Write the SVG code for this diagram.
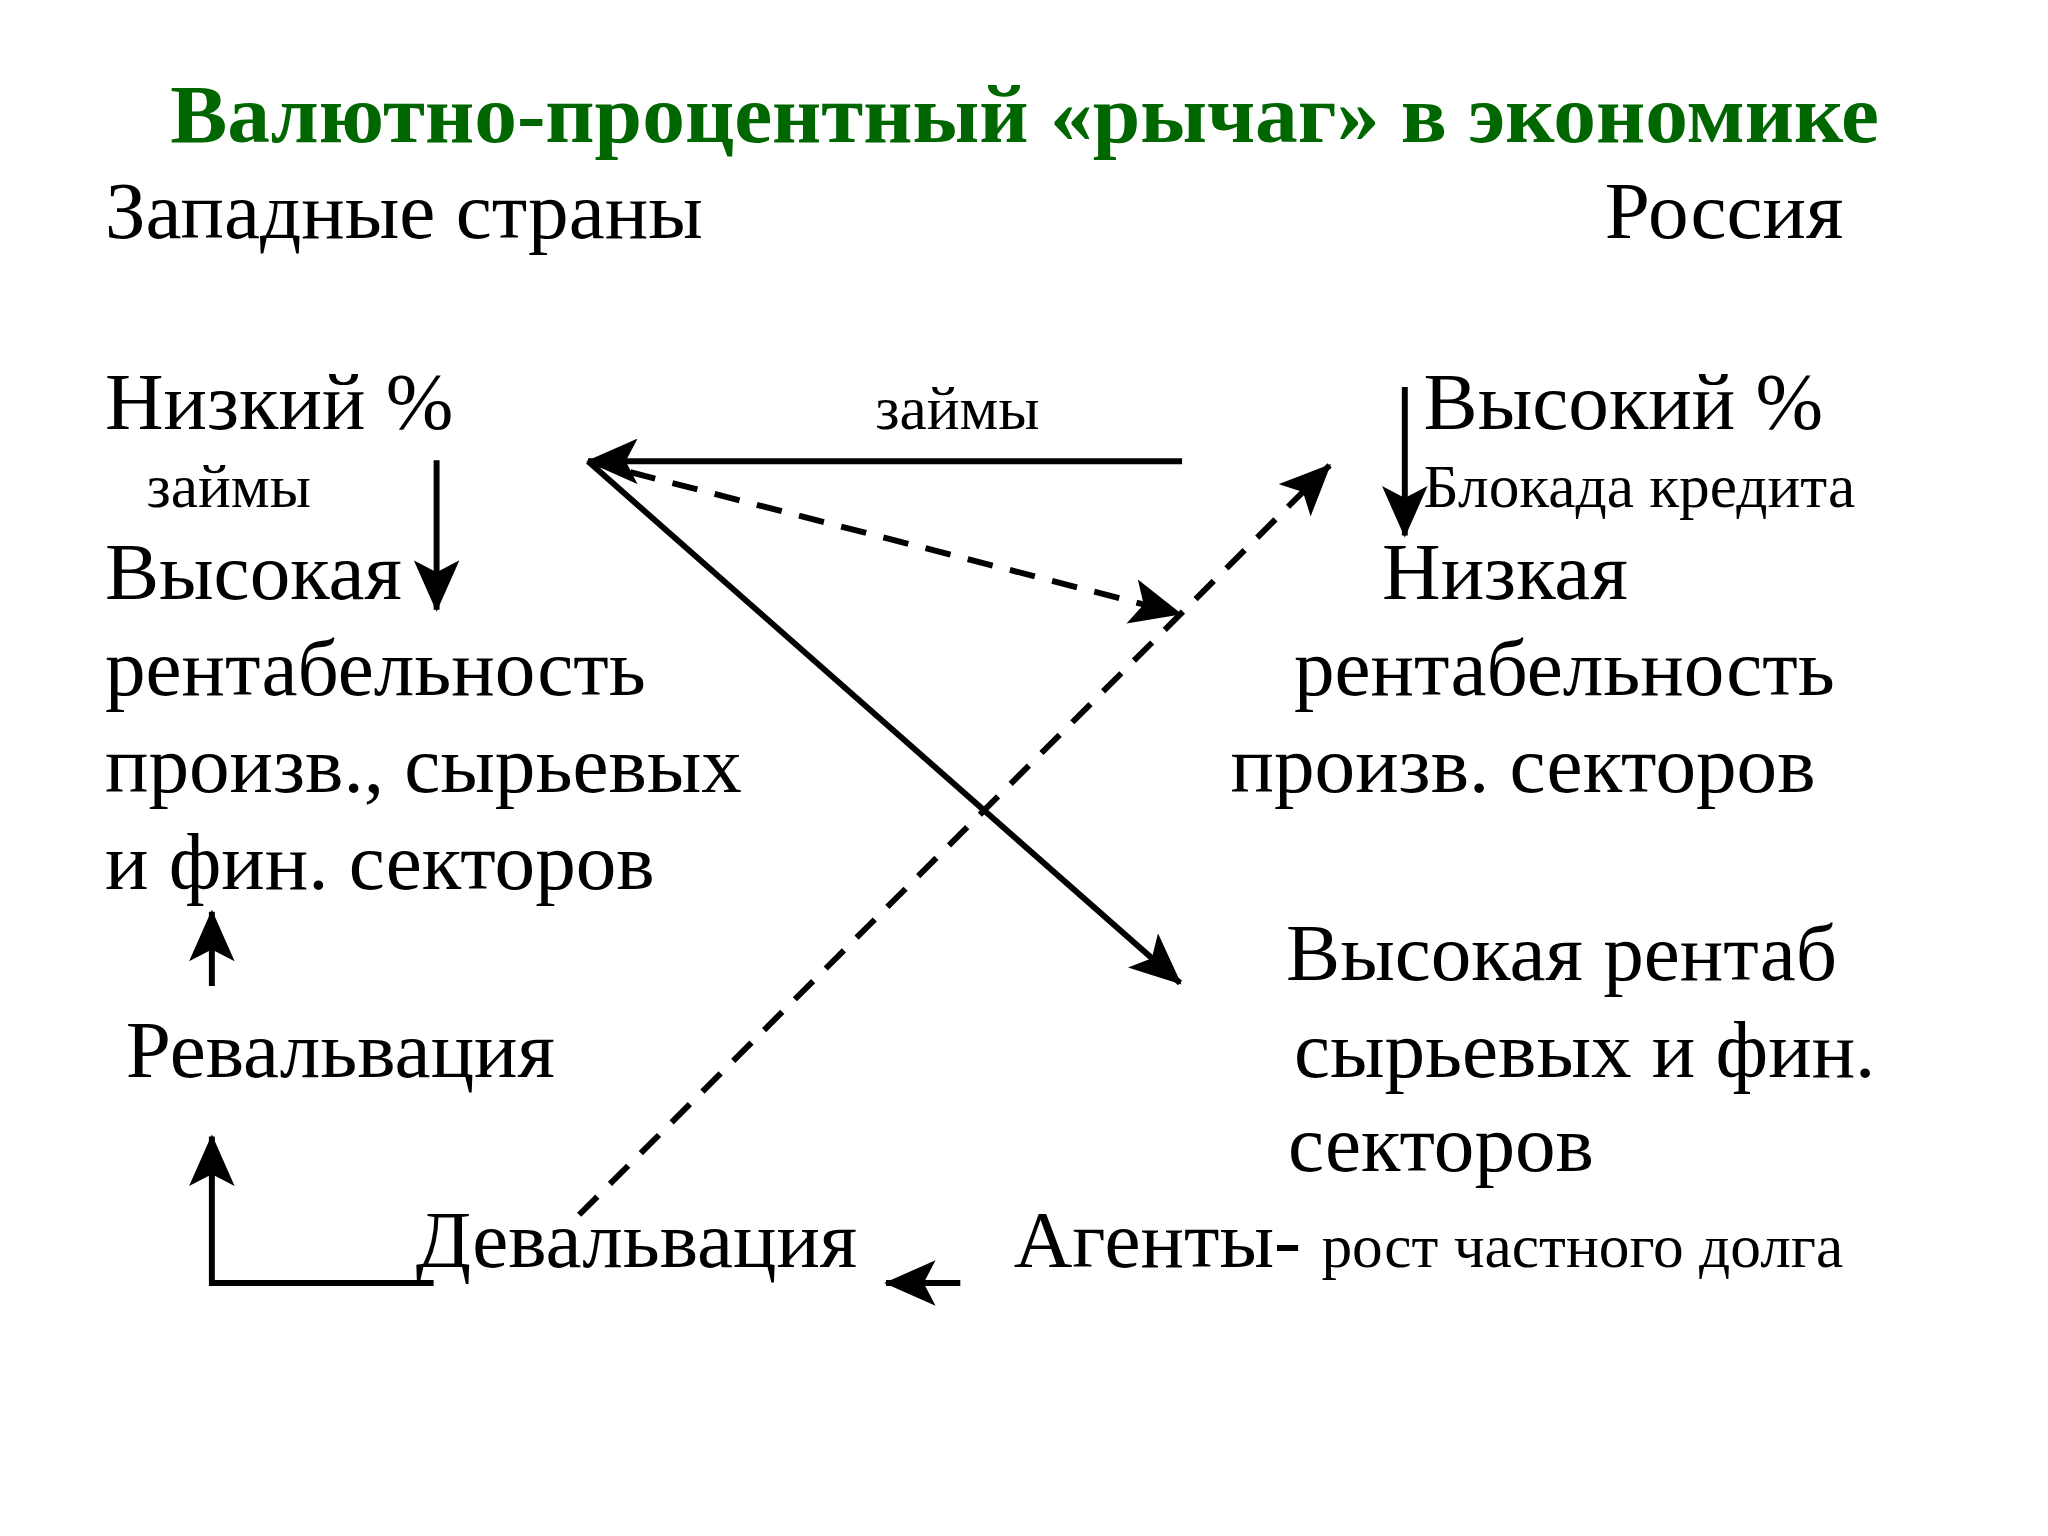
<svg xmlns="http://www.w3.org/2000/svg" width="2048" height="1536" viewBox="0 0 2048 1536">
<style>
text{font-family:"Liberation Serif","DejaVu Serif",serif;fill:#000}
.b{font-size:82px}
.s{font-size:62px}
.t{font-size:84px;font-weight:bold;fill:#006600}
.l{stroke:#000;stroke-width:6;fill:none}
.d{stroke-dasharray:26 18}
</style>
<defs>
<marker id="a" markerUnits="userSpaceOnUse" markerWidth="56" markerHeight="46" refX="50" refY="23" orient="auto">
<path d="M0,0 L52,23 L0,46 L12,23 Z" fill="#000"/>
</marker>
</defs>
<rect width="2048" height="1536" fill="#fff"/>
<g transform="scale(0.99)">
<text class="t" x="172" y="143" textLength="1726" lengthAdjust="spacingAndGlyphs">Валютно-процентный «рычаг» в экономике</text>
<g id="west"><text class="b" x="106" y="240">Западные страны</text></g>
<g id="russia"><text class="b" x="1621" y="240">Россия</text></g>
<g id="low-rate"><text class="b" x="106" y="433">Низкий %</text><text class="s" x="148" y="512">займы</text></g>
<g id="loans"><text class="s" x="884" y="433">займы</text></g>
<g id="high-rate"><text class="b" x="1438" y="433">Высокий %</text><text class="s" x="1438" y="512">Блокада кредита</text></g>
<g id="west-profit"><text class="b" x="106" y="605">Высокая</text><text class="b" x="106" y="702">рентабельность</text><text class="b" x="106" y="800">произв., сырьевых</text><text class="b" x="106" y="898">и фин. секторов</text></g>
<g id="ru-low"><text class="b" x="1396" y="605">Низкая</text><text class="b" x="1307" y="702">рентабельность</text><text class="b" x="1243" y="800">произв. секторов</text></g>
<g id="ru-high"><text class="b" x="1299" y="990">Высокая рентаб</text><text class="b" x="1307" y="1088">сырьевых и фин.</text><text class="b" x="1301" y="1183">секторов</text></g>
<g id="reval"><text class="b" x="127" y="1088">Ревальвация</text></g>
<g id="deval"><text class="b" x="420" y="1280">Девальвация</text></g>
<g id="agents"><text class="b" x="1024" y="1280">Агенты- <tspan class="s">рост частного долга</tspan></text></g>
<g id="connectors">
<line class="l" x1="1194" y1="466" x2="594" y2="466" marker-end="url(#a)"/>
<line class="l" x1="594" y1="466" x2="1192" y2="993" marker-end="url(#a)"/>
<line class="l d" x1="594" y1="466" x2="1192" y2="620" marker-end="url(#a)"/>
<line class="l d" x1="585" y1="1227" x2="1343" y2="470" marker-end="url(#a)"/>
<line class="l" x1="441" y1="465" x2="441" y2="616" marker-end="url(#a)"/>
<line class="l" x1="1419" y1="391" x2="1419" y2="541" marker-end="url(#a)"/>
<line class="l" x1="214" y1="996" x2="214" y2="921" marker-end="url(#a)"/>
<polyline class="l" points="438,1296 214,1296 214,1148" marker-end="url(#a)"/>
<line class="l" x1="970" y1="1296" x2="895" y2="1296" marker-end="url(#a)"/>
</g>
</g>
</svg>
